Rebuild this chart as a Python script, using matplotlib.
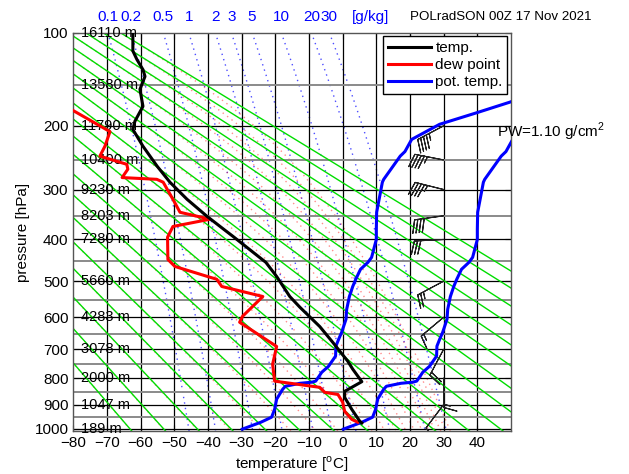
import numpy as np
import matplotlib
matplotlib.use('Agg')
import matplotlib.pyplot as plt
from matplotlib.ticker import FuncFormatter, NullLocator

plt.rcParams['font.family'] = ['Liberation Sans', 'DejaVu Sans']
plt.rcParams['mathtext.fontset'] = 'custom'
plt.rcParams['mathtext.rm'] = 'Liberation Sans'

KAPPA = 0.286

# sounding values
temp_p = [100, 116, 124, 134, 141, 155, 175, 194, 205, 229, 260, 287, 318, 351, 378, 393,
          453, 488, 541, 571, 628, 678, 740, 768, 813, 849, 872, 919, 968, 975]
temp_t = [-62.3, -62.3, -61.1, -59.3, -58.7, -60.2, -59.3, -61.7, -62.3, -59.3, -55.1, -51.3,
          -46.2, -40.3, -35.3, -32.6, -22.8, -19.6, -15.7, -12.7, -6.8, -2.9, 1.5, 3.0, 5.7,
          0.6, 0.6, 2.7, 5.1, 5.7]

dew_p = [172, 208, 229, 244, 257, 265, 279, 282, 287, 318, 343, 357, 372, 395, 446, 463, 490,
         495, 514, 541, 597, 615, 691, 751, 811, 834, 853, 861, 891, 927, 960, 972]
dew_t = [-83.5, -69.1, -70.6, -72.1, -64.1, -63.8, -65.5, -55.2, -53.3, -50.4, -48.3, -39.4,
         -50.4, -52.0, -51.9, -49.8, -39.4, -37.4, -35.9, -23.7, -29.7, -30.6, -19.6, -20.8,
         -20.2, -6.8, -5.3, -1.4, 0.0, 0.6, 2.7, 4.5]

theta_p = [1001, 972, 951, 919, 879, 841, 830, 819, 815, 811, 779, 758, 723, 690, 668, 646,
           606, 577, 541, 514, 495, 470, 453, 441, 400, 378, 343, 287, 282, 244, 237, 219,
           198, 183, 170, 155]
theta_c = [0.2, 5.7, 8.9, 9.8, 10.4, 12.2, 13.0, 17.3, 20.8, 22.0, 23.8, 25.8, 27.9, 28.0,
           28.8, 29.7, 31.0, 31.2, 32.0, 33.0, 33.9, 35.3, 37.5, 38.6, 40.0, 40.0, 40.1, 41.8,
           42.2, 47.1, 48.5, 50.5, 58.8, 69.8, 79.6, 90.0]
theta_shift = 30  # second copy of the pot. temp. curve, shifted left

wind_p = [200, 250, 300, 350, 400, 500, 600, 700, 800, 900]
wind_dir = [242, 281, 284, 262, 267, 242, 230, 208, 180, 217]
wind_kt = [45, 45, 45, 40, 30, 25, 15, 20, 15, 10]

height_p = [100, 150, 200, 250, 300, 350, 400, 500, 600, 700, 800, 900, 1000]
height_m = [16110, 13580, 11790, 10400, 9230, 8203, 7280, 5660, 4283, 3078, 2000, 1047, 189]

mixr_gkg = [0.1, 0.2, 0.5, 1, 2, 3, 5, 10, 20, 30]
mixr_labels = ['0.1', '0.2', '0.5', '1', '2', '3', '5', '10', '20', '30']

theta_lines = np.arange(210, 401, 10)

p_top, p_bot = 100, 1011
p_grid = np.linspace(p_top, p_bot, 300)


def sat_vp(t_c):
    return 6.112 * np.exp(17.67 * t_c / (t_c + 243.5))


def moist_lapse(p, t_k):
    es = sat_vp(t_k - 273.15)
    rs = 0.622 * es / (p - es)
    num = 287.0 * t_k + 2.5e6 * rs
    den = 1004.0 + 2.5e6 ** 2 * rs * 0.622 / (287.0 * t_k ** 2)
    return num / (den * p)


def moist_adiabats(thetas):
    t = np.array(thetas, dtype=float) * (p_top / 1000.0) ** KAPPA
    out = [t.copy()]
    for i in range(1, len(p_grid)):
        dp = p_grid[i] - p_grid[i - 1]
        k1 = moist_lapse(p_grid[i - 1], t)
        k2 = moist_lapse(p_grid[i], t + dp * k1)
        t = t + dp * 0.5 * (k1 + k2)
        out.append(t.copy())
    return np.array(out) - 273.15


def mixr_temp(w_gkg, p):
    w = w_gkg / 1000.0
    e = w * p / (0.622 + w)
    lg = np.log(e / 6.112)
    return 410.0 * lg / (29.0 - lg)


fig = plt.figure(figsize=(6.29, 4.74), dpi=100)
ax = fig.add_axes([0.1165, 0.0897, 0.6959, 0.8417])
ax.set_yscale('function', functions=(lambda p: np.power(np.abs(p), KAPPA),
                                     lambda s: np.power(np.abs(s), 1 / KAPPA)))

# background: mixing ratio, moist and dry adiabats
for w in mixr_gkg:
    ax.plot(mixr_temp(w, p_grid), p_grid, color='blue', lw=1.0, alpha=0.7,
            linestyle=(0, (1, 3)), zorder=1)
moist = moist_adiabats(theta_lines)
for j in range(len(theta_lines)):
    ax.plot(moist[:, j], p_grid, color='red', lw=1.0, alpha=0.45,
            linestyle=(0, (1, 3)), zorder=1)
for th in theta_lines:
    ax.plot(th * (p_grid / 1000.0) ** KAPPA - 273.15, p_grid, color='#00dd00', lw=1.0, zorder=2)

# grid
for t in range(-70, 50, 10):
    ax.axvline(t, color='black', lw=0.9, zorder=1.5)
for p in range(150, 1001, 100):
    ax.axhline(p, color='#8a8a8a', lw=1.4, zorder=1.5)
for p in range(200, 1001, 100):
    ax.axhline(p, color='black', lw=0.9, zorder=1.5)

for p, h in zip(height_p, height_m):
    ax.text(-77.6, p, f'{h} m', va='center', ha='left', fontsize=10.5, zorder=3)

# sounding curves
ax.plot(theta_c, theta_p, color='blue', lw=2.2, zorder=4, label='pot. temp.')
ax.plot(np.array(theta_c) - theta_shift, theta_p, color='blue', lw=2.2, zorder=4)
ax.plot(dew_t, dew_p, color='red', lw=2.2, zorder=5, label='dew point')
ax.plot(temp_t, temp_p, color='black', lw=2.2, zorder=6, label='temp.')

rad = np.deg2rad(wind_dir)
u = -np.array(wind_kt) * np.sin(rad)
v = -np.array(wind_kt) * np.cos(rad)
ax.barbs([30] * len(wind_p), wind_p, u, v, length=6.5, lw=0.8, color='#222222',
         sizes=dict(spacing=0.11, height=0.45), flip_barb=True, zorder=7)

ax.set_xlim(-80, 50)
ax.set_ylim(p_bot, p_top)
ax.set_xticks(range(-80, 41, 10))
ax.set_yticks(range(100, 1001, 100))
ax.yaxis.set_major_formatter(FuncFormatter(lambda val, pos: f'{val:.0f}'))
ax.yaxis.set_minor_locator(NullLocator())
ax.tick_params(direction='in', length=4, labelsize=11, top=True, right=True)
for s in ax.spines.values():
    s.set_linewidth(1.0)
    s.set_color('#555555')

ax.set_xlabel(r'temperature [$^{\rm o}$C]', fontsize=11)
ax.set_ylabel('pressure [hPa]', fontsize=11)
ax.xaxis.set_label_coords(0.5, -0.058)
ax.yaxis.set_label_coords(-0.10, 0.5)

# mixing ratio labels along the top
tx = ax.get_xaxis_transform()
for w, lab in zip(mixr_gkg, mixr_labels):
    ax.text(mixr_temp(w, p_top), 1.04, lab, transform=tx, ha='center', va='center',
            color='blue', fontsize=11, clip_on=False)
ax.text(8.3, 1.04, '[g/kg]', transform=tx, ha='center', va='center', color='blue',
        fontsize=11, clip_on=False)
fig.text(0.652, 0.964, 'POLradSON 00Z 17 Nov 2021', ha='left', va='center', fontsize=9.6)
fig.text(0.790, 0.7215, r'PW=1.10 g/cm$^2$', ha='left', va='center', fontsize=11)

handles, labels = ax.get_legend_handles_labels()
order = [2, 1, 0]
leg = ax.legend([handles[i] for i in order], [labels[i] for i in order], loc='upper right',
                fontsize=11, handlelength=2.8, handletextpad=0.3, labelspacing=0.2,
                borderpad=0.3, borderaxespad=0.25, fancybox=False, framealpha=1)
leg.get_frame().set_edgecolor('black')
leg.get_frame().set_linewidth(1.0)
leg.set_zorder(10)

fig.savefig('out.png', dpi=100)
